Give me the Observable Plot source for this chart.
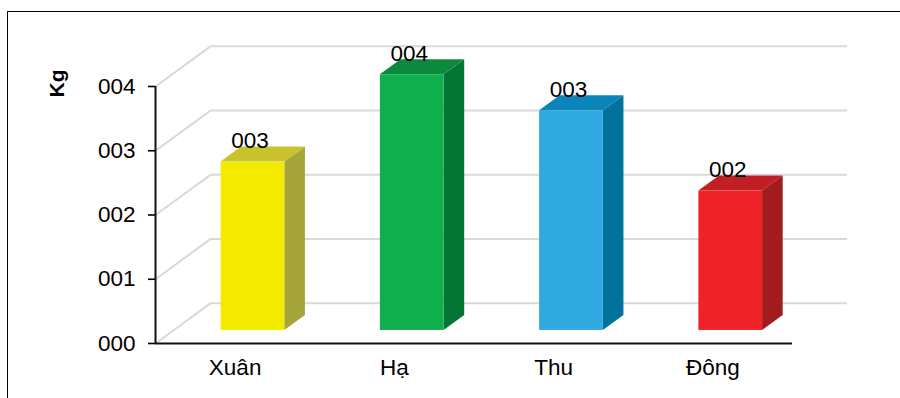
<!DOCTYPE html>
<html><head><meta charset="utf-8">
<script src="https://cdn.jsdelivr.net/npm/d3@7"></script>
<script src="https://cdn.jsdelivr.net/npm/@observablehq/plot@0.6"></script>
<style>
body{margin:0;background:#fff;}
#wrap{position:relative;width:900px;height:398px;overflow:hidden;}
#border{position:absolute;left:7px;top:11px;width:1000px;height:1000px;border:1.4px solid #000;box-sizing:border-box;pointer-events:none}
</style></head><body><div id="wrap"><div id="chart"></div><div id="border"></div></div>
<script>
const categories = ["Xuân", "Hạ", "Thu", "Đông"];
const values = [2.62, 3.98, 3.42, 2.17];
const yTicks = [0, 1, 2, 3, 4];

const frontColors = ["#F4EA00", "#10AF4E", "#2FA9DF", "#EE2227"];
const topColors   = ["#C9C22B", "#0B8A3E", "#0A85B9", "#C21F24"];
const sideColors  = ["#A5A53C", "#037535", "#00729B", "#A11B1F"];

// 3D projection of full depth in data units, and bar depth fractions
const DX = 0.345, DY = 0.625;
const F1 = 0.325, F2 = 0.70;
const W = 0.40;
const FS = 22.5;

const bars = categories.map((c, i) => ({i, c, v: values[i]}));
const sideFaces = bars.flatMap(b => [
  {i: b.i, x: b.i + W / 2 + DX * F1, y1: DY * F1, y2: b.v + DY * F1},
  {i: b.i, x: b.i + W / 2 + DX * F2, y1: DY * F2, y2: b.v + DY * F2}
]);
const topFaces = bars.flatMap(b => [
  {i: b.i, y: b.v + DY * F1, x1: b.i - W / 2 + DX * F1, x2: b.i + W / 2 + DX * F1},
  {i: b.i, y: b.v + DY * F2, x1: b.i - W / 2 + DX * F2, x2: b.i + W / 2 + DX * F2}
]);
const xMin = -0.5, xMax = categories.length - 0.5;

const chart = Plot.plot({
  width: 900,
  height: 398,
  marginLeft: 155,
  marginRight: 108,
  marginTop: 86,
  marginBottom: 55,
  style: {fontFamily: "'Liberation Sans', Arial, sans-serif", color: "#000", background: "transparent", fontSize: FS + "px"},
  x: {domain: [xMin, xMax]},
  y: {domain: [0, 4]},
  color: {type: "identity"},
  marks: [
    Plot.ruleY(yTicks, {y: d => d + DY, x1: xMin + DX, x2: xMax + DX, stroke: "#d9d9d9", strokeWidth: 2}),
    Plot.link(yTicks, {x1: xMin, y1: d => d, x2: xMin + DX, y2: d => d + DY, stroke: "#d9d9d9", strokeWidth: 2}),
    Plot.areaY(sideFaces, {x: "x", y1: "y1", y2: "y2", z: "i", fill: d => sideColors[d.i]}),
    Plot.areaX(topFaces, {y: "y", x1: "x1", x2: "x2", z: "i", fill: d => topColors[d.i]}),
    Plot.rect(bars, {
      x1: d => d.i - W / 2 + DX * F1, x2: d => d.i + W / 2 + DX * F1,
      y1: d => DY * F1, y2: d => d.v + DY * F1,
      fill: d => frontColors[d.i]
    }),
    Plot.text(bars, {
      x: d => d.i + DX * F1, y: d => d.v + DY * F2,
      text: d => d3.format("03.0f")(d.v),
      lineAnchor: "bottom", dx: -3, dy: 1, fontSize: FS, fill: "#000"
    }),
    Plot.axisY(yTicks, {tickFormat: d3.format("03d"), tickSize: 7, tickPadding: 13, strokeWidth: 1.6, fontSize: FS, label: null}),
    Plot.axisX(categories.map((c, i) => i), {tickFormat: i => categories[i], tickSize: 0, tickPadding: 16, fontSize: FS, label: null}),
    Plot.ruleX([xMin], {y1: 0, y2: 4, stroke: "#111", strokeWidth: 2}),
    Plot.ruleY([0], {x1: xMin, x2: xMax, stroke: "#111", strokeWidth: 2}),
    Plot.text(["Kg"], {frameAnchor: "top-left", textAnchor: "middle", lineAnchor: "middle", dx: -98, dy: -3, rotate: -90, fontWeight: "bold", fontSize: 21, fill: "#000"})
  ]
});
document.getElementById("chart").append(chart);
</script></body></html>
